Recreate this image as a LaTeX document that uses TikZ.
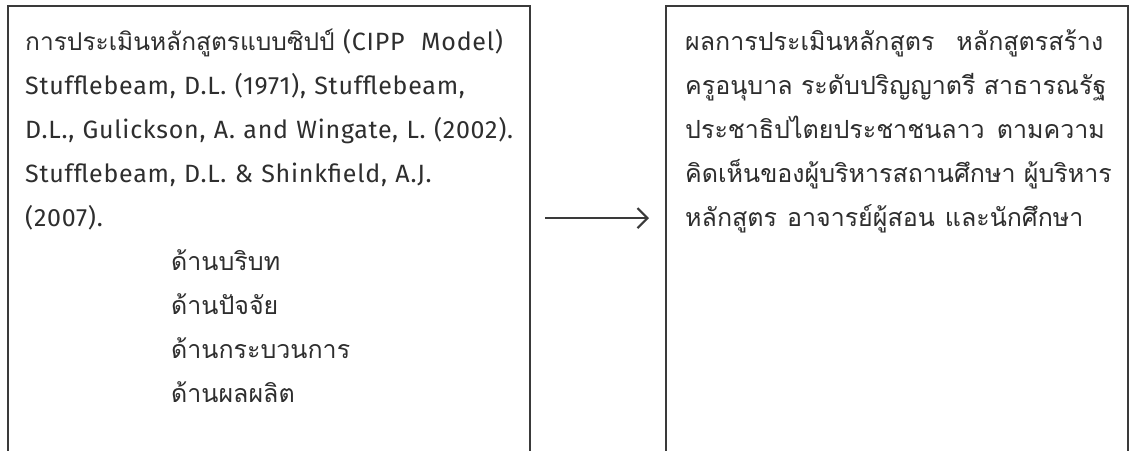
\documentclass[tikz,border=0pt]{standalone}
\usepackage{fontspec}
\setmainfont[LetterSpace=3]{Fira Sans}
\newfontfamily\thaifont[Script=Thai]{Loma}
\usetikzlibrary{arrows.meta}
\definecolor{ink}{HTML}{2E2E2E}
\definecolor{frame}{HTML}{3A3A3A}
\tikzset{
  box/.style={draw=frame, line width=2.2pt, rectangle, inner sep=0pt, anchor=north west},
  txt/.style={text=ink, inner sep=0pt, anchor=base west, text width=620pt, align=left,
    font=\fontsize{25}{44}\selectfont},
  arr/.style={draw=frame, line width=2.2pt, -{Straight Barb[length=10pt,width=20pt,line width=2.2pt]}}
}
\begin{document}
\begin{tikzpicture}[x=1pt,y=-1pt]
\useasboundingbox (0,0) rectangle (1131,450);
\fill[white] (0,0) rectangle (1131,450);
\node[box, minimum width=522pt, minimum height=470pt] (lb) at (7,5) {};
\node[box, minimum width=462pt, minimum height=470pt] (rb) at (665,5) {};
\node[txt] (lt) at (25,50) {{\thaifont\fontsize{24.5}{44}\selectfont การประเมินหลักสูตรแบบซิปป์} (CIPP\ \ Model)\\
Stufflebeam, D.L. (1971), Stufflebeam,\\
D.L., Gulickson, A. and Wingate, L. (2002).\\
Stufflebeam, D.L. \& Shinkfield, A.J.\\
(2007).\\
\hspace*{146pt}{\thaifont ด้านบริบท}\\
\hspace*{146pt}{\thaifont ด้านปัจจัย}\\
\hspace*{146pt}{\thaifont ด้านกระบวนการ}\\
\hspace*{146pt}{\thaifont ด้านผลผลิต}};
\node[txt, font=\thaifont\fontsize{25}{44}\selectfont] (rt) at (685,50) {ผลการประเมินหลักสูตร\hspace{22pt}หลักสูตรสร้าง\\
ครูอนุบาล ระดับปริญญาตรี สาธารณรัฐ\\
ประชาธิปไตยประชาชนลาว\hspace{12pt}ตามความ\\
คิดเห็นของผู้บริหารสถานศึกษา ผู้บริหาร\\
หลักสูตร\hspace{10pt}อาจารย์ผู้สอน\hspace{10pt}และนักศึกษา};
\draw[arr] ([shift={(14,-23)}]lb.east) -- ([shift={(-16,-23)}]rb.west);
\end{tikzpicture}
\end{document}
